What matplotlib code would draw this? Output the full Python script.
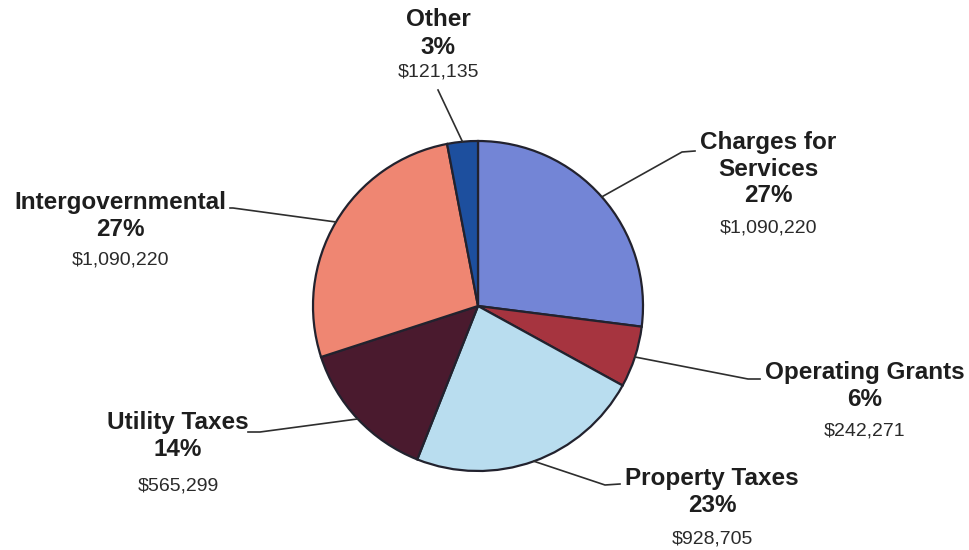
import matplotlib.pyplot as plt
import numpy as np

# revenue sources, clockwise from 12 o'clock
sources = ['Charges for\nServices', 'Operating Grants', 'Property Taxes',
           'Utility Taxes', 'Intergovernmental', 'Other']
amounts = [1090220, 242271, 928705, 565299, 1090220, 121135]
colors = ['#7385d6', '#a6343f', '#b9ddef', '#4a1a2e', '#ef8672', '#1d4f9e']

W, H = 969, 550
cx, cy, R = 478, H - 306, 165

# label anchor (centre x, y of first line, image coords) and leader elbow points
label_xy = [(768, 142), (865, 372), (712, 478), (178, 423), (120, 202), (438, 20)]
dollar_gap = [32, 32, 34, 36, 31, 25]
elbows = [[(682, 152), (695, 151)],
          [(748, 379), (760, 379)],
          [(605, 485), (620, 484)],
          [(260, 432), (248, 432)],
          [(233, 208), (230, 208)],
          [(438, 90), (438, 90)]]

fig = plt.figure(figsize=(W / 100, H / 100), dpi=100)
ax = fig.add_axes([0, 0, 1, 1])

wedges, _ = ax.pie(amounts, colors=colors, startangle=90, counterclock=False,
                   center=(cx, cy), radius=R,
                   wedgeprops={'edgecolor': '#22222e', 'linewidth': 1.6})
ax.set_xlim(0, W)
ax.set_ylim(0, H)
ax.set_aspect('equal')
ax.axis('off')

total = sum(amounts)
txt = '#1e1e1e'
for w, name, amt, (lx, ly), gap, pts in zip(wedges, sources, amounts,
                                             label_xy, dollar_gap, elbows):
    # leader line from the middle of the wedge's rim out to the label
    mid = np.deg2rad((w.theta1 + w.theta2) / 2)
    ex, ey = cx + R * np.cos(mid), cy + R * np.sin(mid)
    xs = [ex] + [p[0] for p in pts]
    ys = [ey] + [H - p[1] for p in pts]
    ax.plot(xs, ys, color='#2e2e2e', lw=1.2)

    pct = '{:.0f}%'.format(100 * amt / total)
    head = name.split('\n') + [pct]
    for i, line in enumerate(head):
        ax.text(lx, H - (ly + 27 * i), line, ha='center', va='center',
                fontsize=17.5, fontweight='bold', family='Liberation Sans',
                color=txt)
    ax.text(lx, H - (ly + 27 * (len(head) - 1) + gap), '${:,}'.format(amt),
            ha='center', va='center', fontsize=14, family='Liberation Sans',
            color='#2a2a2a')

fig.savefig('out.png', dpi=100)
